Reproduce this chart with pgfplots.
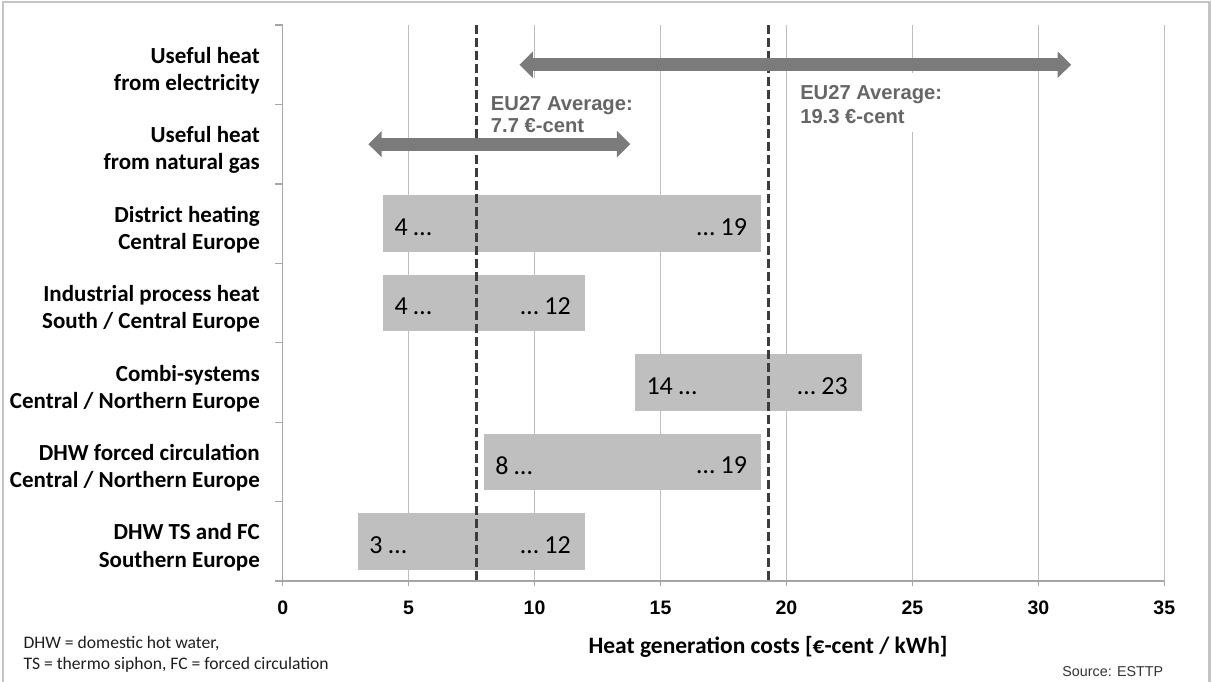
\documentclass[border=0pt]{standalone}
\usepackage{fontspec}
\setmainfont{Carlito}
\newfontfamily\arialfont{Liberation Sans}
\usepackage{pgfplots}
\pgfplotsset{compat=1.18}
\usetikzlibrary{arrows.meta}

\definecolor{framegray}{HTML}{C4C4C4}
\definecolor{axisgray}{HTML}{A6A6A6}
\definecolor{gridgray}{HTML}{BDBDBD}
\definecolor{barfill}{HTML}{BFBFBF}
\definecolor{arrowgray}{HTML}{7B7B7B}
\definecolor{dashgray}{HTML}{3C3C3C}
\definecolor{notegray}{HTML}{666666}

\newcommand{\barfont}{\fontsize{26bp}{30bp}\selectfont}
\newcommand{\notefont}{\arialfont\bfseries\fontsize{20.2bp}{23bp}\selectfont}

\begin{document}
\begin{tikzpicture}
\useasboundingbox (0,0) rectangle (1212bp,-682bp);
\draw[framegray, line width=2.5bp] (3bp,-682bp) -- (3bp,-2bp) -- (1209.5bp,-2bp) -- (1209.5bp,-682bp);

\begin{axis}[
  at={(282.7bp,-581bp)}, anchor=south west,
  scale only axis, width=881.6bp, height=556bp,
  xmin=0, xmax=35, ymin=-0.5, ymax=6.5, y dir=reverse,
  clip=false,
  axis x line*=bottom, axis y line*=left,
  axis line style={draw=axisgray, line width=1.3bp},
  xtick={0,5,...,35},
  xmajorgrids,
  grid style={draw=gridgray, line width=1.3bp},
  ytick={0,...,6},
  minor ytick={-0.5,0.5,...,6.5},
  yticklabels={{Useful heat\\from electricity},
               {Useful heat\\from natural gas},
               {District heating\\Central Europe},
               {Industrial process heat\\South / Central Europe},
               {Combi-systems\\Central / Northern Europe},
               {DHW forced circulation\\Central / Northern Europe},
               {DHW TS and FC\\Southern Europe}},
  tick align=outside,
  major tick length=5bp, minor tick length=7.7bp,
  major y tick style={draw=none},
  minor y tick style={draw=axisgray, line width=1.3bp},
  major x tick style={draw=axisgray, line width=1.3bp},
  /pgf/number format/assume math mode=true,
  xticklabel style={font=\arialfont\bfseries\fontsize{19.5bp}{22bp}\selectfont,
                    anchor=north, inner sep=0pt, yshift=-14.5bp},
  yticklabel style={font=\bfseries\fontsize{23bp}{27.4bp}\selectfont,
                    align=right, anchor=east, inner sep=0pt,
                    xshift=-17.7bp, yshift=-6bp},
]

% cost ranges (low ... high) per application
\addplot[fill=barfill, draw=none] coordinates {(4,1.644) (19,1.644) (19,2.356) (4,2.356)} -- cycle;
\addplot[fill=barfill, draw=none] coordinates {(4,2.644) (12,2.644) (12,3.356) (4,3.356)} -- cycle;
\addplot[fill=barfill, draw=none] coordinates {(14,3.644) (23,3.644) (23,4.356) (14,4.356)} -- cycle;
\addplot[fill=barfill, draw=none] coordinates {(8,4.644) (19,4.644) (19,5.356) (8,5.356)} -- cycle;
\addplot[fill=barfill, draw=none] coordinates {(3,5.644) (12,5.644) (12,6.356) (3,6.356)} -- cycle;

% EU27 averages
\addplot[draw=dashgray, line width=3bp, dash pattern=on 9bp off 4bp] coordinates {(7.7,-0.5) (7.7,6.5)};
\addplot[draw=dashgray, line width=3bp, dash pattern=on 9bp off 4bp] coordinates {(19.3,-0.5) (19.3,6.5)};

% text boxes of the averages
\fill[white] (axis cs:8.05,0.167) rectangle (axis cs:14.5,1.64);
\fill[white] (axis cs:20.34,0.104) rectangle (axis cs:26.5,0.847);
\node[anchor=base west, inner sep=0pt, font=\notefont, text=notegray] at (axis cs:8.26,0.574) {EU27 Average:};
\node[anchor=base west, inner sep=0pt, font=\notefont, text=notegray] at (axis cs:8.26,0.856) {7.7 €-cent};
\node[anchor=base west, inner sep=0pt, font=\notefont, text=notegray] at (axis cs:20.54,0.444) {EU27 Average:};
\node[anchor=base west, inner sep=0pt, font=\notefont, text=notegray] at (axis cs:20.54,0.734) {19.3 €-cent};

% useful heat price spans
\addplot[draw=arrowgray, line width=13.3bp,
  arrows={Triangle[width=25.7bp,length=13.4bp]-Triangle[width=25.7bp,length=13.4bp]}]
  coordinates {(9.4,0) (31.3,0)};
\addplot[draw=arrowgray, line width=13.3bp,
  arrows={Triangle[width=25.7bp,length=13.4bp]-Triangle[width=25.7bp,length=13.4bp]}]
  coordinates {(3.4,1) (13.8,1)};

% range labels
\node[anchor=west, inner sep=0pt, font=\barfont, xshift=11bp, yshift=-3.5bp] at (axis cs:4,2) {4 …};
\node[anchor=east, inner sep=0pt, font=\barfont, xshift=-14bp, yshift=-3.5bp] at (axis cs:19,2) {… 19};
\node[anchor=west, inner sep=0pt, font=\barfont, xshift=11bp, yshift=-3.5bp] at (axis cs:4,3) {4 …};
\node[anchor=east, inner sep=0pt, font=\barfont, xshift=-14bp, yshift=-3.5bp] at (axis cs:12,3) {… 12};
\node[anchor=west, inner sep=0pt, font=\barfont, xshift=11bp, yshift=-3.5bp] at (axis cs:14,4) {14 …};
\node[anchor=east, inner sep=0pt, font=\barfont, xshift=-14bp, yshift=-3.5bp] at (axis cs:23,4) {… 23};
\node[anchor=west, inner sep=0pt, font=\barfont, xshift=11bp, yshift=-3.5bp] at (axis cs:8,5) {8 …};
\node[anchor=east, inner sep=0pt, font=\barfont, xshift=-14bp, yshift=-3.5bp] at (axis cs:19,5) {… 19};
\node[anchor=west, inner sep=0pt, font=\barfont, xshift=11bp, yshift=-3.5bp] at (axis cs:3,6) {3 …};
\node[anchor=east, inner sep=0pt, font=\barfont, xshift=-14bp, yshift=-3.5bp] at (axis cs:12,6) {… 12};
\end{axis}

\node[anchor=base, inner sep=0pt, font=\bfseries\fontsize{23.5bp}{28bp}\selectfont] at (768bp,-653bp) {Heat generation costs [€-cent / kWh]};
\node[anchor=base west, inner sep=0pt, font=\fontsize{17.6bp}{21bp}\selectfont, text=black!88] at (23.3bp,-648bp) {DHW = domestic hot water,};
\node[anchor=base west, inner sep=0pt, font=\fontsize{17.6bp}{21bp}\selectfont, text=black!88] at (23.3bp,-669.3bp) {TS = thermo siphon, FC = forced circulation};
\node[anchor=base east, inner sep=0pt, font=\arialfont\fontsize{14.3bp}{17bp}\selectfont, text=black!80] at (1163.3bp,-676.5bp) {Source: ESTTP};
\end{tikzpicture}
\end{document}
